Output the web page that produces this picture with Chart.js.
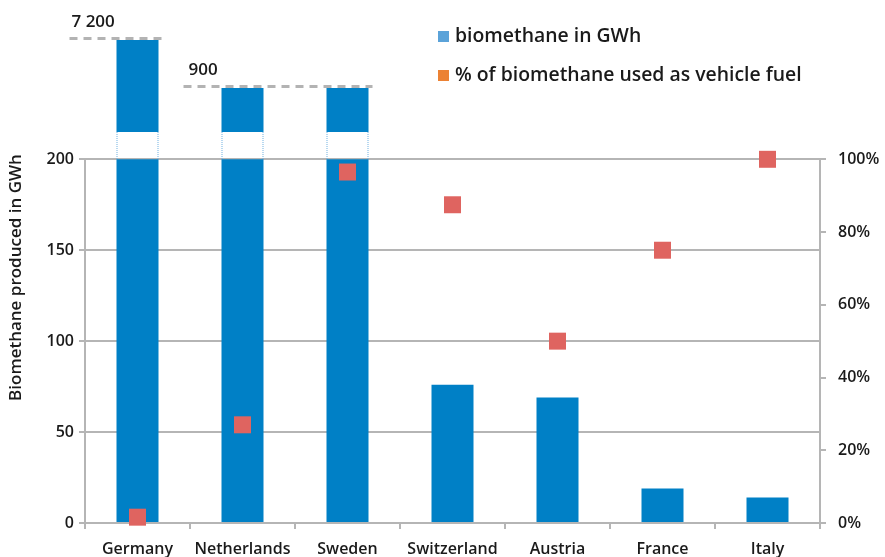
<!DOCTYPE html>
<html>
<head>
<meta charset="utf-8">
<script src="https://cdn.jsdelivr.net/npm/chart.js@4.4.1/dist/chart.umd.min.js"></script>
<style>
  html, body { margin: 0; padding: 0; background: #fff; }
  #wrap { position: relative; width: 885px; height: 557px; }
  .legend { position: absolute; left: 438px; font: 600 19.4px "Open Sans", sans-serif; color: #1a1a1a; white-space: nowrap; }
  .legend span { display: inline-block; width: 11px; height: 11px; margin-right: 6px; vertical-align: 0px; }
</style>
</head>
<body>
<div id="wrap">
  <canvas id="bioChart" width="885" height="557"></canvas>
  <div class="legend" style="top: 21px;"><span style="background:#5ba3d9"></span>biomethane in GWh</div>
  <div class="legend" style="top: 60px;"><span style="background:#ec8234"></span>% of biomethane used as vehicle fuel</div>
</div>
<script>
// data
const countries = ['Germany', 'Netherlands', 'Sweden', 'Switzerland', 'Austria', 'France', 'Italy'];
const biomethaneGWh = [7200, 900, 900, 76, 69, 19, 14];
const vehicleFuelPct = [1.6, 27, 96.5, 87.5, 50, 75, 100];
const leftTicks = [0, 50, 100, 150, 200];
const rightTicks = [0, 20, 40, 60, 80, 100];

// broken axis: values above 200 are shown compressed above a gap
const breakValue = 200;
const gapTop = 215;
function upperTop(v) {
    return 153 + 29.2 * Math.log10(v);
}

const lowerBars = biomethaneGWh.map(v => [0, Math.min(v, breakValue)]);
const upperBars = biomethaneGWh.map(v => v > breakValue ? [gapTop, upperTop(v)] : null);

const fontFamily = '"Open Sans", sans-serif';
const textColor = '#1a1a1a';
const lineGrey = '#b5b5b5';

function formatBig(v) {
    return String(v).replace(/\B(?=(\d{3})+(?!\d))/g, ' ');
}

// axis lines, dotted gap sides and the big value labels
const brokenAxisPlugin = {
    id: 'brokenAxis',
    beforeDatasetsDraw(chart) {
        const ctx = chart.ctx;
        const area = chart.chartArea;
        const y = chart.scales.y;
        const top = y.getPixelForValue(breakValue);
        ctx.save();
        ctx.strokeStyle = lineGrey;
        ctx.lineWidth = 2;
        ctx.beginPath();
        ctx.moveTo(area.left, top);
        ctx.lineTo(area.left, area.bottom + 6);
        ctx.moveTo(area.right, top);
        ctx.lineTo(area.right, area.bottom + 6);
        ctx.stroke();
        ctx.restore();
    },
    afterDatasetsDraw(chart) {
        const ctx = chart.ctx;
        const y = chart.scales.y;
        const bars = chart.getDatasetMeta(2).data;
        const y0 = y.getPixelForValue(breakValue);
        const y1 = y.getPixelForValue(gapTop);
        ctx.save();
        // dotted sides in the gap
        ctx.strokeStyle = '#6fb0e0';
        ctx.lineWidth = 1;
        ctx.setLineDash([1, 1]);
        biomethaneGWh.forEach((v, i) => {
            if (v <= breakValue) return;
            const b = bars[i];
            const half = b.width / 2;
            ctx.beginPath();
            ctx.moveTo(b.x - half + 0.5, y1);
            ctx.lineTo(b.x - half + 0.5, y0);
            ctx.moveTo(b.x + half - 0.5, y1);
            ctx.lineTo(b.x + half - 0.5, y0);
            ctx.stroke();
        });
        // dashed value lines and labels
        const leads = [[-68, -66], [-59, -54]];
        const seen = [];
        biomethaneGWh.forEach((v, i) => {
            if (v <= breakValue || seen.includes(v)) return;
            seen.push(v);
            const idx = biomethaneGWh.map((w, j) => w === v ? j : -1).filter(j => j >= 0);
            const first = bars[idx[0]];
            const last = bars[idx[idx.length - 1]];
            const lead = leads[seen.length - 1] || [-60, -55];
            const ly = Math.round(first.y) - 1.5;
            ctx.strokeStyle = '#b3b3b3';
            ctx.lineWidth = 3;
            ctx.setLineDash([8, 6]);
            ctx.beginPath();
            ctx.moveTo(first.x + lead[0], ly);
            ctx.lineTo(last.x + last.width / 2 + 4, ly);
            ctx.stroke();
            ctx.setLineDash([]);
            ctx.fillStyle = textColor;
            ctx.font = '600 17px ' + fontFamily;
            ctx.textBaseline = 'alphabetic';
            ctx.fillText(formatBig(v), first.x + lead[1], ly - 12);
        });
        ctx.restore();
    }
};

const ctxBio = document.getElementById('bioChart');

new Chart(ctxBio, {
    data: {
        labels: countries,
        datasets: [{
            type: 'line',
            label: '% of biomethane used as vehicle fuel',
            data: vehicleFuelPct,
            yAxisID: 'y2',
            showLine: false,
            pointStyle: 'rect',
            pointRadius: 12,
            pointBackgroundColor: '#df6460',
            pointBorderWidth: 0,
            clip: false,
            order: 0
        }, {
            type: 'bar',
            label: 'biomethane in GWh',
            data: lowerBars,
            backgroundColor: '#0080c6',
            grouped: false,
            barPercentage: 0.4,
            categoryPercentage: 1,
            order: 2
        }, {
            type: 'bar',
            label: 'biomethane in GWh (above break)',
            data: upperBars,
            backgroundColor: '#0080c6',
            grouped: false,
            barPercentage: 0.4,
            categoryPercentage: 1,
            order: 1
        }]
    },
    options: {
        responsive: false,
        animation: false,
        layout: {
            padding: { top: 32, left: 0, right: 0, bottom: 0 }
        },
        scales: {
            x: {
                offset: true,
                grid: {
                    offset: true,
                    drawOnChartArea: false,
                    color: lineGrey,
                    lineWidth: 2,
                    tickLength: 6
                },
                border: { display: true, color: lineGrey, width: 2 },
                ticks: {
                    color: textColor,
                    font: { family: fontFamily, size: 16, weight: 600 },
                    padding: 11
                },
                afterFit(scale) { scale.height = 34; }
            },
            y: {
                position: 'left',
                min: 0,
                max: 270,
                afterBuildTicks(scale) {
                    scale.ticks = leftTicks.map(v => ({ value: v }));
                },
                grid: {
                    color: lineGrey,
                    lineWidth: 2,
                    tickLength: 6
                },
                border: { display: false },
                ticks: {
                    color: textColor,
                    font: { family: fontFamily, size: 16, weight: 600 },
                    padding: 5
                },
                title: {
                    display: true,
                    text: 'Biomethane produced in GWh',
                    color: textColor,
                    font: { family: fontFamily, size: 17, weight: 600 },
                    padding: { top: 6, bottom: 4 }
                },
                afterFit(scale) { scale.width = 85; }
            },
            y2: {
                position: 'right',
                min: 0,
                max: 135,
                afterBuildTicks(scale) {
                    scale.ticks = rightTicks.map(v => ({ value: v }));
                },
                grid: {
                    drawOnChartArea: false,
                    color: lineGrey,
                    lineWidth: 2,
                    tickLength: 6
                },
                border: { display: false },
                ticks: {
                    color: textColor,
                    font: { family: fontFamily, size: 16, weight: 600 },
                    padding: 12,
                    callback: v => v + '%'
                },
                afterFit(scale) { scale.width = 65; }
            }
        },
        plugins: {
            legend: { display: false },
            tooltip: { enabled: false }
        }
    },
    plugins: [brokenAxisPlugin]
});
</script>
</body>
</html>
